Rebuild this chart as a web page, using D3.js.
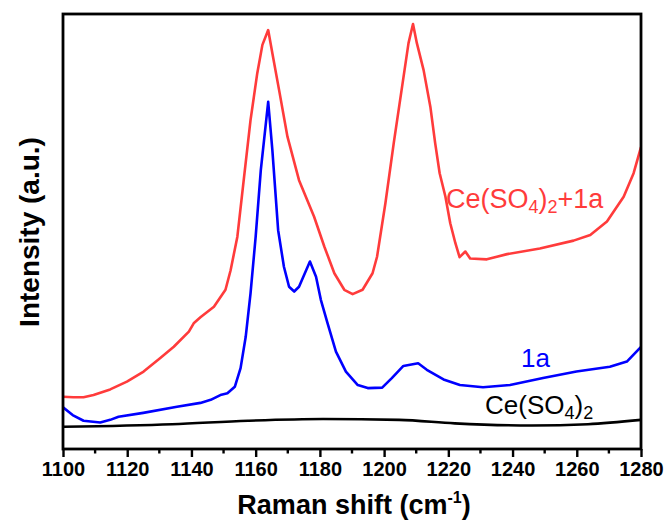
<!DOCTYPE html>
<html>
<head>
<meta charset="utf-8">
<script src="https://cdn.jsdelivr.net/npm/d3@7"></script>
<style>
  body { margin: 0; background: #fff }
  text { font-family: "Liberation Sans", Arial, sans-serif }
</style>
</head>
<body>
<div id="chart"></div>
<script>
// Raman shift (cm-1) and intensity (a.u.)
var ceX = [1100, 1134, 1157.6, 1181, 1204.7, 1222, 1246, 1263.5, 1280]
var ceY = [5.1, 5.7, 6.5, 6.9, 6.7, 5.9, 5.4, 5.7, 6.7]

var aX = [1100, 1103, 1106.4, 1111.6, 1114.7, 1117.3, 1125, 1135.5, 1142.8, 1146, 1149,
          1151.2, 1153.5, 1155.3, 1156.9, 1158.4, 1160, 1161.6, 1163.9, 1165.2, 1167,
          1168.8, 1170.4, 1172, 1173.5, 1176.9, 1178.8, 1180.3, 1182.4, 1185, 1188.1,
          1191.8, 1194.9, 1199.4, 1202.4, 1206, 1210.6, 1213.3, 1218.5, 1223.6, 1230.8,
          1239.2, 1249.5, 1259.9, 1270.3, 1275.6, 1280]
var aY = [9.6, 7.8, 6.5, 6.1, 6.7, 7.4, 8.3, 9.7, 10.6, 11.3, 12.4,
          12.8, 14.3, 18.6, 25.8, 35.8, 48.8, 64.1, 79.8, 68.7, 50.3,
          41.9, 37.3, 36.2, 37.3, 43.1, 39.6, 34.3, 28.9, 22.4, 17.8,
          14.7, 14.0, 14.1, 16.3, 19.1, 19.7, 18.2, 16.0, 14.7, 14.2,
          14.7, 16.3, 17.8, 18.9, 20.1, 23.5]

var mixX = [1100, 1103.2, 1106.4, 1109.5, 1114.7, 1119.9, 1125.1, 1130.3, 1134.5, 1139.2,
            1140.7, 1142.8, 1147, 1150.6, 1152.2, 1154.3, 1156.4, 1158.4, 1160.5, 1162.1,
            1163.9, 1165.2, 1167.3, 1169.9, 1173.5, 1178.2, 1181.4, 1184.5, 1187.6, 1190.2,
            1193.3, 1196.4, 1197.8, 1200.4, 1203, 1205.6, 1207.6, 1209, 1210.2, 1212.3,
            1214.4, 1215.9, 1217.3, 1219.1, 1220.6, 1222.2, 1223.5, 1225.3, 1226.8, 1232,
            1235.1, 1238.3, 1248.5, 1259, 1264.2, 1269.4, 1274.6, 1277.7, 1280]
var mixY = [12.0, 11.9, 11.9, 12.4, 13.7, 15.5, 17.8, 20.9, 23.5, 27.0,
            28.9, 30.3, 32.7, 36.6, 41.1, 48.8, 62.6, 75.6, 86.4, 92.9,
            96.3, 91.0, 82.5, 71.8, 61.8, 53.4, 46.5, 40.4, 36.6, 35.6,
            36.6, 40.4, 44.2, 56.5, 70.3, 83.3, 93.3, 97.7, 93.3, 87.1,
            78.7, 70.3, 63.4, 58.0, 51.9, 47.3, 44.1, 45.4, 43.8, 43.6,
            44.2, 44.8, 46.1, 47.9, 49.2, 52.3, 58.0, 63.4, 69.4]

var xTicks = d3.range(1100, 1281, 20)
var xMinor = d3.range(1110, 1280, 20)

var W = 670
  , H = 522
  , pl = 63
  , pr = 641
  , pt = 14
  , pb = 449

var svg = d3.select('#chart').append('svg').attr('width', W).attr('height', H)

var x = d3.scaleLinear().domain([1100, 1280]).range([pl, pr])
var y = d3.scaleLinear().domain([0, 100]).range([pb, pt])

function pts (xs, ys) {
  return xs.map(function (v, i) { return [v, ys[i]] })
}

// the baseline is a smooth hump, the spectra keep their sharp peaks
var series = [
  { p: pts(ceX, ceY), c: '#000000', k: d3.curveMonotoneX },
  { p: pts(aX, aY), c: '#0000ff', k: d3.curveLinear },
  { p: pts(mixX, mixY), c: '#ff3b3b', k: d3.curveLinear }
]

svg.append('clipPath').attr('id', 'clip')
  .append('rect').attr('x', pl).attr('y', pt)
  .attr('width', pr - pl).attr('height', pb - pt)

svg.append('g').attr('clip-path', 'url(#clip)')
  .selectAll('path').data(series)
  .enter().append('path')
  .attr('d', function (d) {
    return d3.line().curve(d.k)
      .x(function (p) { return x(p[0]) })
      .y(function (p) { return y(p[1]) })(d.p)
  })
  .attr('fill', 'none')
  .attr('stroke', function (d) { return d.c })
  .attr('stroke-width', 2.6)
  .attr('stroke-linejoin', 'round')

// bottom axis, outward ticks
var ax = svg.append('g').attr('transform', 'translate(0,' + pb + ')')
  .call(d3.axisBottom(x).tickValues(xTicks).tickSize(8).tickPadding(5).tickFormat(d3.format('d')))
ax.select('.domain').remove()
ax.selectAll('line').attr('stroke-width', 2.4)
ax.selectAll('text').attr('font-size', 20).attr('font-weight', 'bold').attr('fill', '#000')
  .style('font-family', '"Liberation Sans", Arial, sans-serif')

svg.append('g').selectAll('line').data(xMinor)
  .enter().append('line')
  .attr('x1', x).attr('x2', x)
  .attr('y1', pb).attr('y2', pb + 4.5)
  .attr('stroke', '#000').attr('stroke-width', 2.4)

svg.append('rect')
  .attr('x', pl).attr('y', pt)
  .attr('width', pr - pl).attr('height', pb - pt)
  .attr('fill', 'none').attr('stroke', '#000').attr('stroke-width', 2.8)

// axis titles
var xt = svg.append('text').attr('x', 354).attr('y', 514)
  .attr('text-anchor', 'middle').attr('font-size', 27).attr('font-weight', 'bold')
xt.append('tspan').text('Raman shift (cm')
xt.append('tspan').attr('font-size', 16).attr('dy', -11).text('-1')
xt.append('tspan').attr('dy', 11).text(')')

svg.append('text')
  .attr('transform', 'translate(39,232) rotate(-90)')
  .attr('text-anchor', 'middle').attr('font-size', 28).attr('font-weight', 'bold')
  .text('Intensity (a.u.)')

// curve labels
function ceLabel (g, tail) {
  g.append('tspan').text('Ce(SO')
  g.append('tspan').attr('font-size', 18).attr('dy', 5).text('4')
  g.append('tspan').attr('dy', -5).text(')')
  g.append('tspan').attr('font-size', 18).attr('dy', 5).text('2')
  if (tail) g.append('tspan').attr('dy', -5).text(tail)
}

ceLabel(svg.append('text').attr('x', 446).attr('y', 208)
  .attr('font-size', 27).attr('fill', '#ff3b3b'), '+1a')

svg.append('text').attr('x', 521).attr('y', 366.5)
  .attr('font-size', 26).attr('fill', '#0000ff').text('1a')

ceLabel(svg.append('text').attr('x', 485).attr('y', 413.5)
  .attr('font-size', 26).attr('fill', '#000'))
</script>
</body>
</html>
